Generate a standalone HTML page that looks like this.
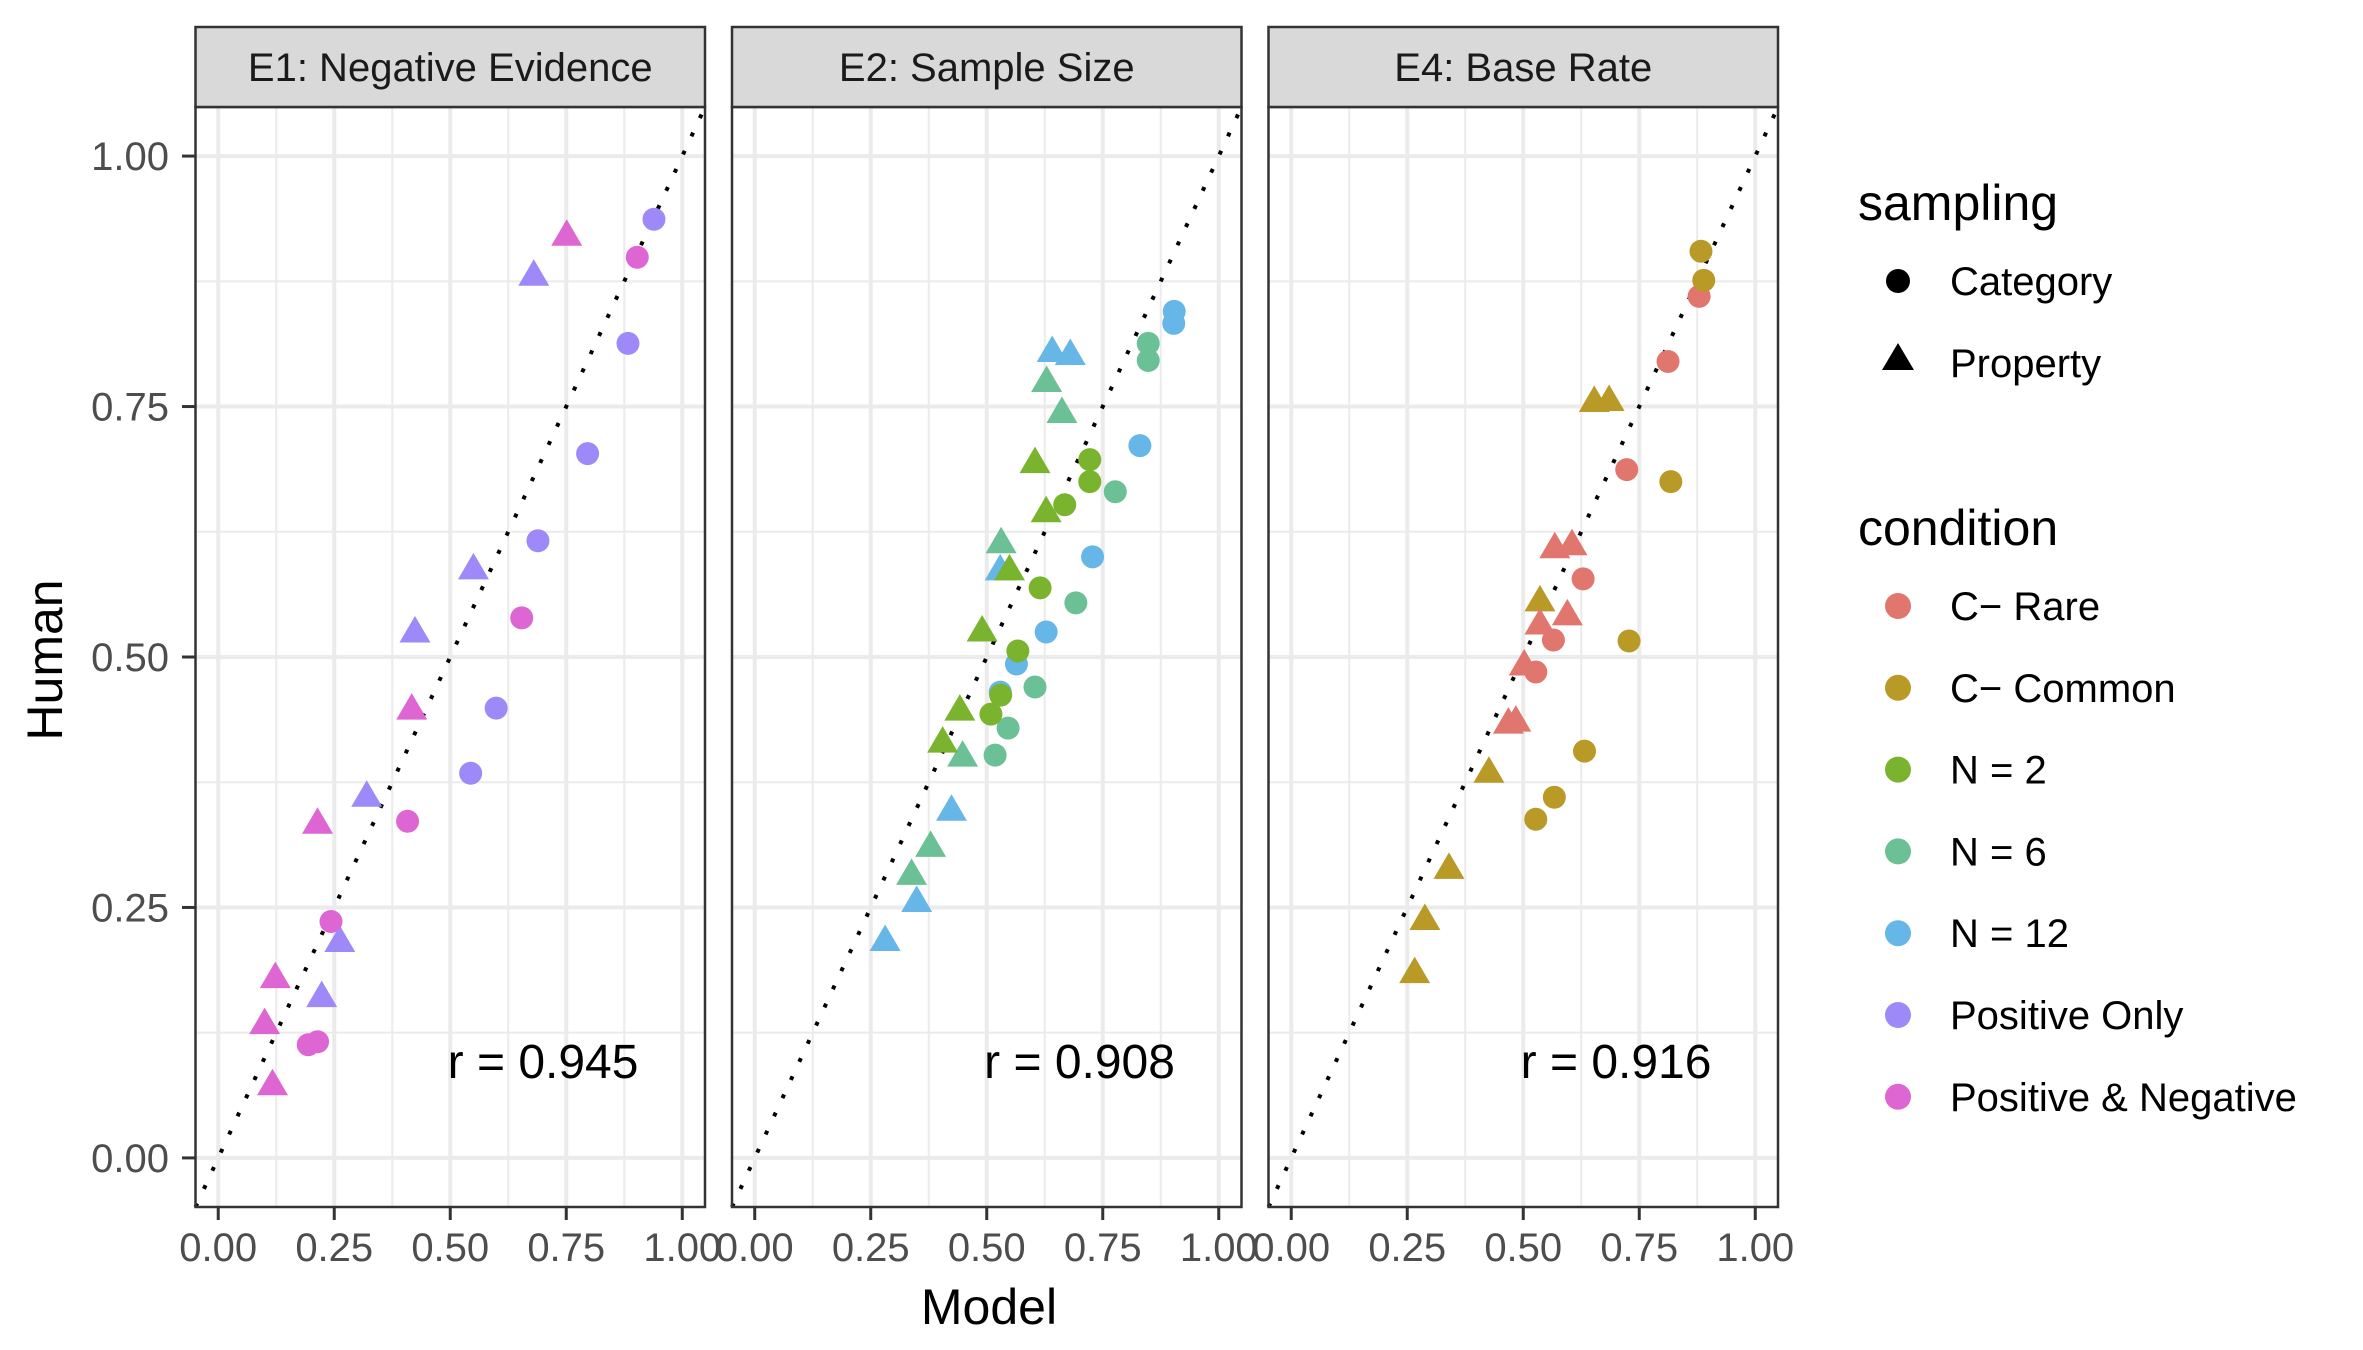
<!DOCTYPE html>
<html><head><meta charset="utf-8"><style>
html,body{margin:0;padding:0;background:#fff;}
svg{display:block;font-family:"Liberation Sans",Arial,sans-serif;}
</style></head><body>
<svg id="chart" width="2363" height="1350" viewBox="0 0 2363 1350" xmlns="http://www.w3.org/2000/svg">
<g id="panels"></g>
<text x="45" y="660" transform="rotate(-90 45 660)" text-anchor="middle" dominant-baseline="central" font-size="50" fill="#000">Human</text>
<text x="989" y="1324" text-anchor="middle" font-size="50" fill="#000">Model</text>
<g id="legend">
<text x="1858" y="220" font-size="50" fill="#000">sampling</text>
<circle cx="1898" cy="281" r="12" fill="#000"/>
<text x="1950" y="295" font-size="40" fill="#000">Category</text>
<polygon points="1898,343 1914,370 1882,370" fill="#000"/>
<text x="1950" y="377" font-size="40" fill="#000">Property</text>
<text x="1858" y="545" font-size="50" fill="#000">condition</text>
</g>
</svg>
<script>
const panelTitles = ["E1: Negative Evidence", "E2: Sample Size", "E4: Base Rate"];
const rLabels = ["r = 0.945", "r = 0.908", "r = 0.916"];
const conditionNames = ["C\u2212 Rare", "C\u2212 Common", "N = 2", "N = 6", "N = 12", "Positive Only", "Positive & Negative"];
const conditionColors = ["#E0766E", "#B99A27", "#7AB32E", "#6BC096", "#67B6E8", "#9D8AF8", "#DE66D3"];
const tickValues = [0, 0.25, 0.5, 0.75, 1];
const tickLabels = ["0.00", "0.25", "0.50", "0.75", "1.00"];

// points: panel, condition index, shape (0 circle, 1 triangle), model, human
const pointPanel = [
0,0,0,0,0,0, 0,0,0,0,0,0, 0,0,0,0,0,0, 0,0,0,0,0,0,
1,1,1,1,1,1,1, 1,1,1,1,1,1,1, 1,1,1,1,1,1,1,
1,1,1,1,1,1, 1,1,1,1,1,1, 1,1,1,1,1,1,
2,2,2,2,2,2, 2,2,2,2,2,2,2, 2,2,2,2,2,2,2, 2,2,2,2,2,2,2
];
const pointCond = [
5,5,5,5,5,5, 5,5,5,5,5,5, 6,6,6,6,6,6, 6,6,6,6,6,6,
4,4,4,4,4,4,4, 3,3,3,3,3,3,3, 2,2,2,2,2,2,2,
4,4,4,4,4,4, 3,3,3,3,3,3, 2,2,2,2,2,2,
0,0,0,0,0,0, 1,1,1,1,1,1,1, 1,1,1,1,1,1,1, 0,0,0,0,0,0,0
];
const pointShape = [
0,0,0,0,0,0, 1,1,1,1,1,1, 0,0,0,0,0,0, 1,1,1,1,1,1,
0,0,0,0,0,0,0, 0,0,0,0,0,0,0, 0,0,0,0,0,0,0,
1,1,1,1,1,1, 1,1,1,1,1,1, 1,1,1,1,1,1,
0,0,0,0,0,0, 0,0,0,0,0,0,0, 1,1,1,1,1,1,1, 1,1,1,1,1,1,1
];
const modelVals = [
0.939,0.883,0.796,0.689,0.599,0.544, 0.680,0.550,0.424,0.320,0.262,0.223,
0.903,0.654,0.408,0.243,0.214,0.194, 0.751,0.417,0.214,0.123,0.100,0.117,
0.904,0.903,0.830,0.728,0.628,0.564,0.529, 0.848,0.848,0.777,0.692,0.604,0.546,0.518,
0.722,0.722,0.668,0.615,0.567,0.530,0.509,
0.641,0.680,0.529,0.424,0.349,0.281, 0.629,0.662,0.531,0.448,0.379,0.338,
0.604,0.628,0.549,0.490,0.442,0.405,
0.879,0.812,0.723,0.629,0.565,0.527, 0.883,0.889,0.818,0.728,0.632,0.567,0.527,
0.653,0.685,0.536,0.426,0.340,0.288,0.266, 0.568,0.605,0.595,0.536,0.502,0.468,0.484
];
const humanVals = [
0.937,0.813,0.703,0.616,0.449,0.384, 0.880,0.587,0.524,0.360,0.215,0.160,
0.899,0.539,0.336,0.236,0.116,0.113, 0.920,0.447,0.333,0.179,0.133,0.072,
0.845,0.833,0.711,0.600,0.525,0.493,0.465, 0.813,0.796,0.665,0.554,0.470,0.429,0.402,
0.697,0.675,0.652,0.569,0.506,0.462,0.443,
0.804,0.801,0.586,0.346,0.255,0.216, 0.774,0.743,0.613,0.400,0.310,0.282,
0.693,0.644,0.586,0.525,0.446,0.414,
0.860,0.795,0.687,0.578,0.517,0.485, 0.905,0.876,0.675,0.516,0.406,0.360,0.338,
0.754,0.755,0.555,0.384,0.288,0.237,0.184, 0.608,0.611,0.541,0.532,0.491,0.433,0.435
];
const NS = "http://www.w3.org/2000/svg";
const panelLeft = [195.5, 732, 1268.5];
const panelW = 509.5, panelTop = 107, panelBottom = 1207, stripTop = 27;
const lo = -0.049, hi = 1.049;
function xScale(p, v){ return panelLeft[p] + (v - lo) / (hi - lo) * panelW; }
function yScale(v){ return panelBottom - (v - lo) / (hi - lo) * (panelBottom - panelTop); }
function mk(tag, attrs, parent){ const e = document.createElementNS(NS, tag); for (const k in attrs) e.setAttribute(k, attrs[k]); parent.appendChild(e); return e; }
const root = document.getElementById("panels");
for (let p = 0; p < 3; p++) {
  const g = mk("g", {}, root);
  
  
  const L = panelLeft[p], R = L + panelW;
  for (let i = 0; i < 4; i++) {
    const m = (tickValues[i] + tickValues[i + 1]) / 2;
    mk("line", {x1: xScale(p, m), x2: xScale(p, m), y1: panelTop, y2: panelBottom, stroke: "#ebebeb", "stroke-width": 2}, g);
    mk("line", {x1: L, x2: R, y1: yScale(m), y2: yScale(m), stroke: "#ebebeb", "stroke-width": 2}, g);
  }
  tickValues.forEach(v => {
    mk("line", {x1: xScale(p, v), x2: xScale(p, v), y1: panelTop, y2: panelBottom, stroke: "#ebebeb", "stroke-width": 4}, g);
    mk("line", {x1: L, x2: R, y1: yScale(v), y2: yScale(v), stroke: "#ebebeb", "stroke-width": 4}, g);
  });
  const diag = mk("line", {x1: xScale(p, lo), y1: yScale(lo), x2: xScale(p, hi), y2: yScale(hi), stroke: "#000", "stroke-width": 4, "stroke-dasharray": "4 16"}, g);
  
  
  for (let i = 0; i < pointPanel.length; i++) {
    if (pointPanel[i] !== p) continue;
    const cx = xScale(p, modelVals[i]), cy = yScale(humanVals[i]);
    const col = conditionColors[pointCond[i]];
    let el;
    if (pointShape[i] === 0) {
      el = mk("circle", {cx: cx, cy: cy, r: 11.5, fill: col}, g);
    } else {
      el = mk("polygon", {points: `${cx},${cy-17} ${cx+15.5},${cy+9.5} ${cx-15.5},${cy+9.5}`, fill: col}, g);
    }
    
    
  }
  mk("rect", {x: L, y: panelTop, width: panelW, height: panelBottom - panelTop, fill: "none", stroke: "#333", "stroke-width": 2.5}, g);
  const strip = mk("rect", {x: L, y: stripTop, width: panelW, height: panelTop - stripTop, fill: "#d9d9d9", stroke: "#333", "stroke-width": 2.5}, g);
  
  
  const st = mk("text", {x: L + panelW / 2, y: 81, "text-anchor": "middle", "font-size": 40, fill: "#1a1a1a"}, g);
  st.textContent = panelTitles[p];
  
  
  const rt = mk("text", {x: xScale(p, 0.70), y: 1078, "text-anchor": "middle", "font-size": 48, fill: "#000"}, g);
  rt.textContent = rLabels[p];
  
  
  tickValues.forEach((v, k) => {
    mk("line", {x1: xScale(p, v), x2: xScale(p, v), y1: panelBottom, y2: 1220, stroke: "#333", "stroke-width": 3}, g);
    const t = mk("text", {x: xScale(p, v), y: 1261, "text-anchor": "middle", "font-size": 40, fill: "#4d4d4d"}, g);
    t.textContent = tickLabels[k];
    
    
  });
}
const yg = mk("g", {}, root);


tickValues.forEach((v, k) => {
  mk("line", {x1: 182, x2: 195.5, y1: yScale(v), y2: yScale(v), stroke: "#333", "stroke-width": 3}, yg);
  const t = mk("text", {x: 169, y: yScale(v) + 14, "text-anchor": "end", "font-size": 40, fill: "#4d4d4d"}, yg);
  t.textContent = tickLabels[k];
  
  
});
const lg = document.getElementById("legend");
conditionNames.forEach((n, i) => {
  const base = 620 + i * 81.8;
  const c = mk("circle", {cx: 1898, cy: base - 14, r: 13, fill: conditionColors[i]}, lg);
  
  
  const t = mk("text", {x: 1950, y: base, "font-size": 40, fill: "#000"}, lg);
  t.textContent = n;
  
  
});
</script>
</body></html>
